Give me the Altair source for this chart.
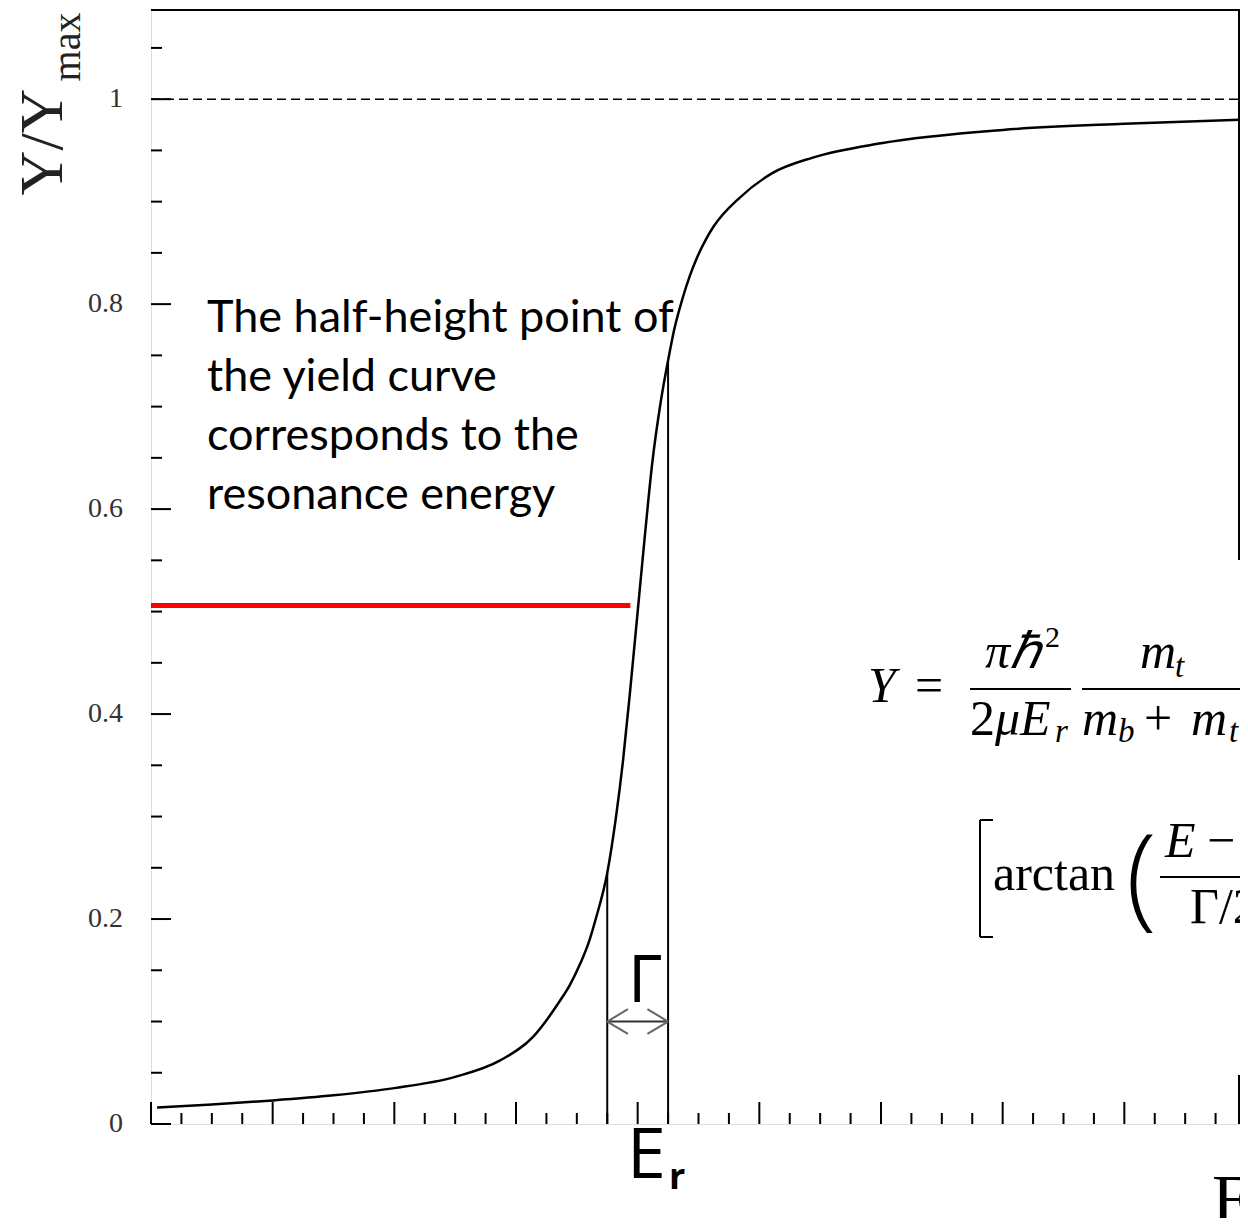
import altair as alt
import pandas as pd

# ---------------- data ----------------
energy = [0.05, 0.5, 1.0, 1.5, 2.0, 2.5, 2.87, 3.14, 3.36, 3.44, 3.53, 3.60, 3.66, 3.75,
          3.82, 3.88, 3.94, 4.0, 4.06, 4.12, 4.19, 4.25, 4.30, 4.37, 4.43, 4.49, 4.56,
          4.62, 4.84, 5.11, 5.44, 6.0, 7.0, 8.0, 8.95]
yield_ratio = [0.016, 0.019, 0.023, 0.028, 0.035, 0.046, 0.062, 0.085, 0.120, 0.135, 0.157,
               0.178, 0.202, 0.245, 0.298, 0.355, 0.425, 0.50, 0.575, 0.645, 0.705, 0.745,
               0.775, 0.806, 0.828, 0.846, 0.863, 0.875, 0.904, 0.928, 0.943, 0.957, 0.970,
               0.976, 0.980]

y_major = [0, 0.2, 0.4, 0.6, 0.8, 1.0]
y_major_labels = ["0", "0.2", "0.4", "0.6", "0.8", "1"]
y_minor = [0.05, 0.1, 0.15, 0.25, 0.3, 0.35, 0.45, 0.5, 0.55, 0.65, 0.7, 0.75,
           0.85, 0.9, 0.95, 1.05]
x_major = [0, 1, 2, 3, 4, 5, 6, 7, 8]
x_minor = [0.25, 0.5, 0.75, 1.25, 1.5, 1.75, 2.25, 2.5, 2.75, 3.25, 3.5, 3.75,
           4.25, 4.5, 4.75, 5.25, 5.5, 5.75, 6.25, 6.5, 6.75, 7.25, 7.5, 7.75,
           8.25, 8.5, 8.75]

E_r = 4.0
gamma = 0.5
y_max_line = 1.0
half_level = 0.506
red_end = 3.94
y_at_low_edge = 0.245
y_at_high_edge = 0.745
arrow_level = 0.1

annotation_lines = ["The half-height point of", "the yield curve",
                    "corresponds to the", "resonance energy"]

# ---------------- layout ----------------
PX_PER_UNIT = 1095 / 9
W, H = 1089, 1114
X_DOM = [0, W / PX_PER_UNIT]
Y_DOM = [0, 1.087]

xs = alt.Scale(domain=X_DOM, nice=False, zero=False)
ys = alt.Scale(domain=Y_DOM, nice=False, zero=False)

one = pd.DataFrame({"a": [0]})

curve_df = pd.DataFrame({"E": energy, "Y": yield_ratio})

curve = alt.Chart(curve_df).mark_line(color="black", strokeWidth=2.5, interpolate="monotone").encode(
    x=alt.X("E:Q", scale=xs, axis=alt.Axis(labels=False, ticks=False, title=None, grid=False,
                                           domainColor="black", domainWidth=2)),
    y=alt.Y("Y:Q", scale=ys, axis=alt.Axis(labels=False, ticks=False, title=None,
                                           grid=False, domainColor="black", domainWidth=2)),
)

layers = [curve]

# y tick labels
layers.append(alt.Chart(pd.DataFrame({"v": y_major, "lab": y_major_labels})).mark_text(
    font="Liberation Serif", fontSize=28, color="#333", align="right", baseline="middle").encode(
    y=alt.Y("v:Q", scale=ys, axis=None), x=alt.value(-28), text="lab:N"))

# y ticks (pointing inward)
for vals, ln in ((y_major, 20), (y_minor, 11)):
    layers.append(alt.Chart(pd.DataFrame({"v": vals})).mark_rule(color="black", strokeWidth=2).encode(
        y=alt.Y("v:Q", scale=ys, axis=None), x=alt.value(0), x2=alt.value(ln)))
# x ticks (pointing inward)
for vals, ln in ((x_major, 22), (x_minor, 11)):
    layers.append(alt.Chart(pd.DataFrame({"v": vals})).mark_rule(color="black", strokeWidth=2).encode(
        x=alt.X("v:Q", scale=xs, axis=None), y=alt.value(H), y2=alt.value(H - ln)))

# frame top and right (right partly hidden behind the formula)
layers.append(alt.Chart(one).mark_rule(color="black", strokeWidth=2).encode(
    x=alt.value(0), x2=alt.value(W), y=alt.value(0)))
layers.append(alt.Chart(one).mark_rule(color="black", strokeWidth=2).encode(
    x=alt.value(W - 1), y=alt.value(0), y2=alt.value(550)))
layers.append(alt.Chart(one).mark_rule(color="black", strokeWidth=2).encode(
    x=alt.value(W - 1), y=alt.value(1065), y2=alt.value(H)))

# dashed line at Y/Ymax = 1
layers.append(alt.Chart(pd.DataFrame({"y": [y_max_line], "x": [X_DOM[0]], "x2": [X_DOM[1]]}))
              .mark_rule(color="black", strokeWidth=1.5, strokeDash=[9, 5]).encode(
    y=alt.Y("y:Q", scale=ys, axis=None), x=alt.X("x:Q", scale=xs, axis=None), x2="x2:Q"))

# red half-height line
layers.append(alt.Chart(pd.DataFrame({"y": [half_level], "x": [X_DOM[0]], "x2": [red_end]}))
              .mark_rule(color="#ff0000", strokeWidth=5).encode(
    y=alt.Y("y:Q", scale=ys, axis=None), x=alt.X("x:Q", scale=xs, axis=None), x2="x2:Q"))

# vertical lines at Er -/+ Gamma/2
vl = pd.DataFrame({"x": [E_r - gamma / 2, E_r + gamma / 2], "y": [0, 0],
                   "y2": [y_at_low_edge, y_at_high_edge]})
layers.append(alt.Chart(vl).mark_rule(color="black", strokeWidth=2).encode(
    x=alt.X("x:Q", scale=xs, axis=None), y=alt.Y("y:Q", scale=ys, axis=None), y2="y2:Q"))

# double arrow for Gamma
lo, hi = E_r - gamma / 2, E_r + gamma / 2
layers.append(alt.Chart(pd.DataFrame({"x": [lo], "x2": [hi], "y": [arrow_level]}))
              .mark_rule(color="#333", strokeWidth=2).encode(
    x=alt.X("x:Q", scale=xs, axis=None), x2="x2:Q", y=alt.Y("y:Q", scale=ys, axis=None)))
adx, ady = gamma * 0.34, 0.012
arms = pd.DataFrame({
    "x": [lo, lo, hi, hi],
    "x2": [lo + adx, lo + adx, hi - adx, hi - adx],
    "y": [arrow_level] * 4,
    "y2": [arrow_level + ady, arrow_level - ady, arrow_level + ady, arrow_level - ady],
})
layers.append(alt.Chart(arms).mark_rule(color="#666", strokeWidth=2).encode(
    x=alt.X("x:Q", scale=xs, axis=None), x2="x2:Q",
    y=alt.Y("y:Q", scale=ys, axis=None), y2="y2:Q"))


def txt(t, x, y, size, font="Liberation Serif", style="normal", weight="normal",
        angle=0, align="left", baseline="alphabetic", color="black"):
    kw = dict(font=font, fontSize=size, fontStyle=style, fontWeight=weight,
              align=align, baseline=baseline, color=color)
    if angle:
        kw["angle"] = angle
    return alt.Chart(pd.DataFrame({"t": [t]})).mark_text(**kw).encode(
        text="t:N", x=alt.value(x), y=alt.value(y))


def bar(x1, x2, y, w=2):
    return alt.Chart(one).mark_rule(color="black", strokeWidth=w).encode(
        x=alt.value(x1), x2=alt.value(x2), y=alt.value(y))


# annotation
for i, line in enumerate(annotation_lines):
    layers.append(txt(line, 56, 322 + 59 * i, 45, font="Lato"))

# y title
layers.append(txt("Y/Y", -89, 132, 62, align="center", angle=270, color="#222"))
layers.append(txt("max", -71, 37, 40, align="center", angle=270, color="#222"))

# axis symbol labels
layers.append(txt("E", 476, 1168, 70, font="Open Sans"))
layers.append(txt("r", 518, 1179, 36, font="Open Sans", weight="bold"))
layers.append(txt("Γ", 477, 992, 66, font="Open Sans"))
layers.append(txt("E", 1061, 1213, 70))

# formula (partly cut by the right edge)
layers += [
    txt("Y", 717, 692, 50, style="italic"),
    txt("=", 764, 692, 50),
    txt("π", 834, 658, 50, style="italic"),
    txt("ℏ", 859, 658, 50, style="italic"),
    txt("2", 894, 637, 30),
    bar(819, 920, 679),
    txt("2", 819, 725, 50),
    txt("μE", 844, 725, 50, style="italic"),
    txt("r", 904, 732, 33, style="italic"),
    txt("m", 989, 658, 50, style="italic"),
    txt("t", 1024, 667, 33, style="italic"),
    bar(931, 1150, 679),
    txt("m", 931, 725, 50, style="italic"),
    txt("b", 967, 732, 33, style="italic"),
    txt("+", 993, 725, 50),
    txt("m", 1040, 725, 50, style="italic"),
    txt("t", 1078, 732, 33, style="italic"),
    alt.Chart(one).mark_rule(color="black", strokeWidth=2).encode(
        x=alt.value(829), y=alt.value(810), y2=alt.value(927)),
    bar(829, 842, 810),
    bar(829, 842, 927),
    txt("arctan", 842, 880, 50),
    txt("(", 975, 905, 112, font="Open Sans", weight=300),
    bar(1009, 1150, 867),
    txt("E", 1014, 847, 50, style="italic"),
    txt("−", 1056, 847, 50),
    txt("E", 1100, 847, 50, style="italic"),
    txt("Γ/2", 1039, 913, 50),
]

chart = alt.layer(*layers).properties(
    width=W, height=H,
    autosize=alt.AutoSizeParams(type="none"),
    padding={"left": 143, "top": 2, "right": 0, "bottom": 94},
).configure_view(stroke=None).configure(background="white")

chart.save("out.html", embed_options={"renderer": "svg", "actions": False})
